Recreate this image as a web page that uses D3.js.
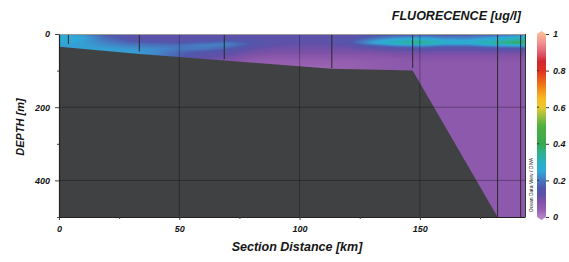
<!DOCTYPE html>
<html>
<head>
<meta charset="utf-8">
<script src="https://cdn.jsdelivr.net/npm/d3@7"></script>
<style>
  body { margin: 0; background: #fff; }
  svg text { font-family: "Liberation Sans", Arial, sans-serif; font-weight: bold; font-style: italic; fill: #151515; }
</style>
</head>
<body>
<svg id="chart" width="569" height="262"></svg>
<script>
// section distances (km) and depths (m) of the gridded field
var distKm = [0, 10, 20, 30, 40, 50, 60, 70, 80, 90, 100, 110, 120, 130, 140, 150, 160, 170, 180, 190, 194];
var depthM = [0, 10, 20, 25, 30, 40, 50, 60, 70, 80, 100, 200, 500];

// fluorescence [ug/l], one row per depth
var fluo = [
  [0.26,0.22,0.15,0.13,0.12,0.12,0.12,0.12,0.12,0.12,0.12,0.12,0.12,0.13,0.14,0.14,0.14,0.15,0.16,0.18,0.19],
  [0.27,0.25,0.18,0.14,0.13,0.13,0.13,0.13,0.13,0.13,0.13,0.13,0.13,0.18,0.22,0.24,0.21,0.21,0.24,0.28,0.29],
  [0.26,0.24,0.20,0.16,0.15,0.14,0.15,0.17,0.15,0.13,0.13,0.13,0.15,0.23,0.30,0.34,0.27,0.26,0.31,0.36,0.36],
  [0.25,0.24,0.21,0.18,0.17,0.16,0.18,0.20,0.16,0.13,0.12,0.12,0.14,0.24,0.32,0.36,0.29,0.27,0.34,0.39,0.37],
  [0.24,0.24,0.22,0.20,0.19,0.19,0.21,0.21,0.15,0.12,0.11,0.11,0.13,0.18,0.23,0.25,0.21,0.21,0.25,0.27,0.27],
  [0.24,0.24,0.24,0.23,0.22,0.20,0.20,0.17,0.12,0.10,0.10,0.10,0.10,0.12,0.13,0.14,0.13,0.13,0.14,0.15,0.15],
  [0.24,0.24,0.24,0.24,0.22,0.18,0.15,0.13,0.10,0.09,0.09,0.09,0.09,0.09,0.10,0.10,0.10,0.10,0.10,0.10,0.10],
  [0.24,0.24,0.24,0.24,0.21,0.17,0.13,0.11,0.08,0.07,0.07,0.07,0.07,0.07,0.08,0.08,0.08,0.08,0.08,0.08,0.08],
  [0.24,0.24,0.24,0.22,0.20,0.15,0.11,0.09,0.06,0.05,0.05,0.05,0.05,0.06,0.06,0.07,0.07,0.07,0.07,0.07,0.07],
  [0.24,0.24,0.22,0.20,0.18,0.14,0.10,0.07,0.05,0.04,0.04,0.04,0.04,0.05,0.06,0.06,0.06,0.06,0.06,0.06,0.06],
  [0.20,0.20,0.20,0.18,0.15,0.12,0.09,0.06,0.04,0.03,0.03,0.03,0.04,0.05,0.06,0.06,0.06,0.06,0.06,0.06,0.06],
  [0.06,0.06,0.06,0.06,0.06,0.06,0.06,0.06,0.06,0.06,0.06,0.06,0.06,0.06,0.06,0.06,0.06,0.06,0.06,0.06,0.06],
  [0.06,0.06,0.06,0.06,0.06,0.06,0.06,0.06,0.06,0.06,0.06,0.06,0.06,0.06,0.06,0.06,0.06,0.06,0.06,0.06,0.06]
];

// bottom topography [km, m]
var bottomKm = [0, 33.4, 68.7, 113.4, 147, 182.3, 194];
var bottomM  = [35, 54.5, 72.5, 95, 100, 500, 500];

// station positions and deepest sample
var stationKm = [3.9, 33.4, 68.7, 113.4, 147, 182.3, 191.9];
var stationM  = [27, 48, 69, 93, 93, 500, 500];

var xTicks = [0, 50, 100, 150];
var yTicks = [0, 200, 400];
var cbTicks = [0, 0.2, 0.4, 0.6, 0.8, 1];

// ODV-like colour palette
var palVals = [0, 0.04, 0.08, 0.12, 0.16, 0.20, 0.25, 0.30, 0.35, 0.40, 0.50, 0.55, 0.60, 0.65, 0.72, 0.80, 0.85, 0.90, 0.95, 1];
var palCols = ["#b383c5","#9660b0","#8352a8","#6050a8","#5058ac","#4878c0","#30a8d8","#28b0c0","#30b090","#38a850",
               "#50b040","#98c040","#e8c830","#f8b820","#f07818","#e03020","#d02830","#e06070","#f09090","#f8b898"];

var svg = d3.select("#chart");
var pL = 59, pT = 34, pR = 525, pB = 217;

var x = d3.scaleLinear().domain([0, 193.7]).range([pL, pR]);
var y = d3.scaleLinear().domain([0, 500]).range([pT, pB]);
var color = d3.scaleLinear().domain(palVals).range(palCols).clamp(true);

// bilinear lookup on the grid
function fieldAt(km, m) {
  var i = Math.min(Math.max(d3.bisectRight(distKm, km) - 1, 0), distKm.length - 2);
  var j = Math.min(Math.max(d3.bisectRight(depthM, m) - 1, 0), depthM.length - 2);
  var tx = (km - distKm[i]) / (distKm[i + 1] - distKm[i]);
  var ty = (m - depthM[j]) / (depthM[j + 1] - depthM[j]);
  tx = Math.max(0, Math.min(1, tx)); ty = Math.max(0, Math.min(1, ty));
  var a = fluo[j][i] * (1 - tx) + fluo[j][i + 1] * tx;
  var b = fluo[j + 1][i] * (1 - tx) + fluo[j + 1][i + 1] * tx;
  return a * (1 - ty) + b * ty;
}

// paint the field into a canvas and drop it in as an image
var w = pR - pL, h = pB - pT;
var canvas = document.createElement("canvas");
canvas.width = w; canvas.height = h;
var ctx = canvas.getContext("2d");
var img = ctx.createImageData(w, h);
for (var py = 0; py < h; py++) {
  for (var px = 0; px < w; px++) {
    var c = d3.rgb(color(fieldAt(x.invert(pL + px + 0.5), y.invert(pT + py + 0.5))));
    var k = (py * w + px) * 4;
    img.data[k] = c.r; img.data[k + 1] = c.g; img.data[k + 2] = c.b; img.data[k + 3] = 255;
  }
}
ctx.putImageData(img, 0, 0);
svg.append("image")
  .attr("x", pL).attr("y", pT).attr("width", w).attr("height", h)
  .attr("href", canvas.toDataURL());

// seafloor
var bottomPts = bottomKm.map(function(d, i) { return [d, bottomM[i]]; });
svg.append("path")
  .datum(bottomPts)
  .attr("fill", "#404142")
  .attr("d", d3.area().x(function(d) { return x(d[0]); }).y0(pB).y1(function(d) { return y(d[1]); }));

// grid lines
svg.append("g").selectAll("line").data([50, 100, 150]).enter().append("line")
  .attr("x1", function(d) { return x(d); }).attr("x2", function(d) { return x(d); })
  .attr("y1", pT).attr("y2", pB)
  .attr("stroke", "#000").attr("stroke-opacity", 0.3);
svg.append("g").selectAll("line").data([200, 400]).enter().append("line")
  .attr("y1", function(d) { return y(d); }).attr("y2", function(d) { return y(d); })
  .attr("x1", pL).attr("x2", pR)
  .attr("stroke", "#000").attr("stroke-opacity", 0.3);

// station casts
svg.append("g").selectAll("line").data(stationKm).enter().append("line")
  .attr("x1", function(d) { return x(d); }).attr("x2", function(d) { return x(d); })
  .attr("y1", pT).attr("y2", function(d, i) { return y(stationM[i]); })
  .attr("stroke", "#2a2a2a").attr("stroke-width", 1);

// frame
svg.append("line").attr("x1", pL).attr("x2", pR).attr("y1", pT + 0.5).attr("y2", pT + 0.5)
  .attr("stroke", "#9a9a9a");
svg.append("line").attr("x1", pR + 0.5).attr("x2", pR + 0.5).attr("y1", pT).attr("y2", pB)
  .attr("stroke", "#333");

// axes
svg.append("g").attr("transform", "translate(0," + pB + ")")
  .call(d3.axisBottom(x).tickValues(xTicks).tickSize(3).tickSizeOuter(0).tickPadding(6).tickFormat(d3.format("d")));
svg.append("g").attr("transform", "translate(0," + pB + ")")
  .call(d3.axisBottom(x).tickValues([25, 75, 125, 175]).tickSize(2).tickSizeOuter(0).tickFormat(""))
  .select(".domain").remove();
svg.append("g").attr("transform", "translate(" + pL + ",0)")
  .call(d3.axisLeft(y).tickValues(yTicks).tickSize(4).tickSizeOuter(0).tickPadding(5).tickFormat(d3.format("d")));
svg.append("g").attr("transform", "translate(" + pL + ",0)")
  .call(d3.axisLeft(y).tickValues([100, 300, 500]).tickSize(2).tickSizeOuter(0).tickFormat(""))
  .select(".domain").remove();
svg.selectAll(".tick line").attr("stroke", "#444");
svg.selectAll(".domain").attr("stroke", "#222").attr("stroke-width", 1.2);
svg.selectAll(".tick text").style("font-size", "9px").style("fill", "#151515");
svg.selectAll("g").attr("font-family", null).attr("font-size", null);

// titles
svg.append("text").attr("x", 521).attr("y", 20).attr("text-anchor", "end")
  .style("font-size", "12.5px").text("FLUORECENCE [ug/l]");
svg.append("text").attr("transform", "translate(24,127) rotate(-90)").attr("text-anchor", "middle")
  .style("font-size", "11px").text("DEPTH [m]");
svg.append("text").attr("x", 297).attr("y", 251).attr("text-anchor", "middle")
  .style("font-size", "12.5px").text("Section Distance [km]");
svg.append("text").attr("transform", "translate(533,185) rotate(-90)").attr("text-anchor", "middle")
  .style("font-size", "5px").style("font-weight", "normal").style("font-style", "normal")
  .text("Ocean Data View / DIVA");

// colour bar
var cbX = 537, cbW = 9;
var cbY = d3.scaleLinear().domain([0, 1]).range([217, 34]);
var grad = svg.append("defs").append("linearGradient").attr("id", "cb")
  .attr("x1", 0).attr("y1", 1).attr("x2", 0).attr("y2", 0);
grad.selectAll("stop").data(palVals).enter().append("stop")
  .attr("offset", function(d) { return d; })
  .attr("stop-color", function(d, i) { return palCols[i]; });
svg.append("rect").attr("x", cbX).attr("y", cbY(1)).attr("width", cbW).attr("height", cbY(0) - cbY(1))
  .attr("fill", "url(#cb)");
svg.append("path").attr("fill", palCols[palCols.length - 1])
  .attr("d", "M" + cbX + "," + cbY(1) + "L" + (cbX + cbW / 2) + "," + (cbY(1) - 3) + "L" + (cbX + cbW) + "," + cbY(1) + "Z");
svg.append("path").attr("fill", palCols[0])
  .attr("d", "M" + cbX + "," + cbY(0) + "L" + (cbX + cbW / 2) + "," + (cbY(0) + 3) + "L" + (cbX + cbW) + "," + cbY(0) + "Z");
var cbAxis = svg.append("g").attr("transform", "translate(" + (cbX + cbW) + ",0)")
  .call(d3.axisRight(cbY).tickValues(cbTicks).tickSize(3).tickSizeOuter(0).tickPadding(4)
    .tickFormat(function(d) { return d === 0 || d === 1 ? d3.format("d")(d) : d3.format(".1f")(d); }));
cbAxis.select(".domain").remove();
cbAxis.selectAll(".tick line").attr("stroke", "#333");
cbAxis.selectAll(".tick text").style("font-size", "9px").style("fill", "#151515");
svg.append("g").selectAll("line").data(cbTicks.slice(1, -1)).enter().append("line")
  .attr("x1", cbX).attr("x2", cbX + 2)
  .attr("y1", function(d) { return cbY(d); }).attr("y2", function(d) { return cbY(d); })
  .attr("stroke", "#333");
</script>
</body>
</html>
